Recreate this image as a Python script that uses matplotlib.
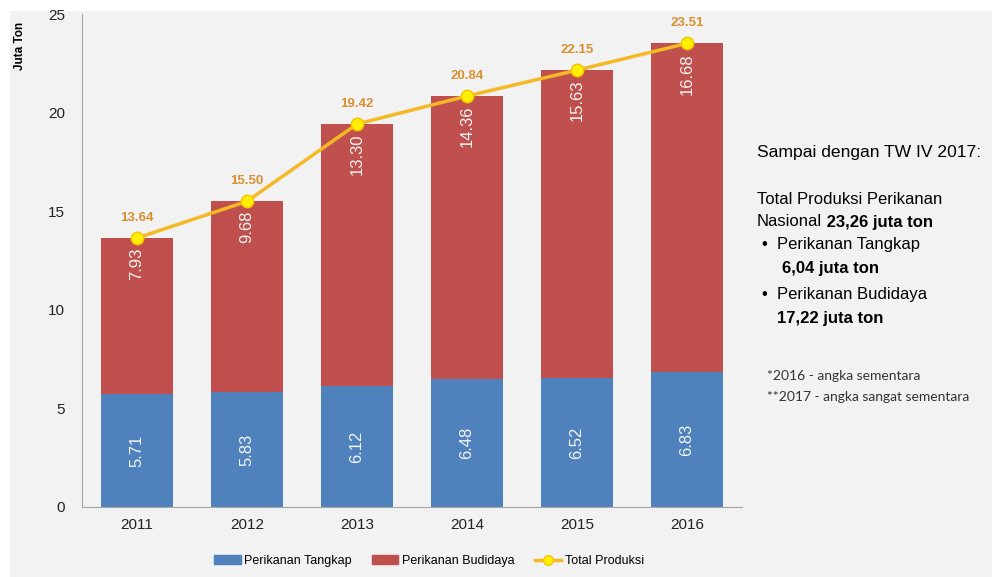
import matplotlib
matplotlib.use('Agg')
from matplotlib import pyplot as plt
from matplotlib.patches import Rectangle, Patch
from matplotlib.lines import Line2D
import numpy as np

plt.rcParams['font.family'] = ['Liberation Sans', 'DejaVu Sans']

years = ['2011', '2012', '2013', '2014', '2015', '2016']
tangkap = [5.71, 5.83, 6.12, 6.48, 6.52, 6.83]
budidaya = [7.93, 9.68, 13.30, 14.36, 15.63, 16.68]
total = [13.64, 15.50, 19.42, 20.84, 22.15, 23.51]

blue = '#4f81bd'
red = '#c0504d'
line_col = '#f5b925'
lab_col = '#d8902f'
bg = '#f2f2f2'

fig = plt.figure(figsize=(9.92, 5.77), dpi=100, facecolor='white')
# gray panel with a thin white margin at the top and left
fig.patches.append(Rectangle((10 / 992, 0), 1, 1 - 11 / 577, transform=fig.transFigure,
                             facecolor=bg, edgecolor='none', zorder=-10))

ax = fig.add_axes([82 / 992, 70 / 577, 660 / 992, 493 / 577])
ax.set_facecolor(bg)
x = np.arange(len(years))
w = 0.66

ax.bar(x, tangkap, w, color=blue, zorder=2)
ax.bar(x, budidaya, w, bottom=tangkap, color=red, zorder=2)
ax.plot(x, total, color=line_col, lw=2.5, marker='o', ms=9,
        mfc='#ffef00', mec='#f5c400', mew=1, zorder=4)

for i in range(len(years)):
    ax.text(x[i], tangkap[i] / 2, f'{tangkap[i]:.2f}', rotation=90, color='#f4f4f4',
            ha='center', va='center', fontsize=12, zorder=5)
    ax.annotate(f'{budidaya[i]:.2f}', (x[i], total[i]), xytext=(0, -7),
                textcoords='offset points', rotation=90, color='#f4f4f4',
                ha='center', va='top', fontsize=12, zorder=5)
    ax.annotate(f'{total[i]:.2f}', (x[i], total[i]), xytext=(0, 10),
                textcoords='offset points', color=lab_col, fontweight='bold',
                ha='center', va='bottom', fontsize=9.5, zorder=5)

ax.set_xlim(-0.5, len(years) - 0.5)
ax.set_ylim(0, 25)
ax.set_yticks([0, 5, 10, 15, 20, 25])
ax.set_xticks(x)
ax.set_xticklabels(years)
ax.tick_params(length=0, labelsize=11, colors='#222222')
ax.tick_params(axis='y', pad=12)
ax.tick_params(axis='x', pad=8)
for s in ['top', 'right']:
    ax.spines[s].set_visible(False)
for s in ['left', 'bottom']:
    ax.spines[s].set_color('#a6a6a6')
ax.set_ylabel('Juta Ton', fontsize=8.5, fontweight='bold')
ax.yaxis.set_label_coords(-0.085, 0.935)

handles = [Patch(color=blue, label='Perikanan Tangkap'),
           Patch(color=red, label='Perikanan Budidaya'),
           Line2D([0], [0], color=line_col, lw=2.5, marker='o', ms=7,
                  mfc='#ffef00', mec='#f5c400', label='Total Produksi')]
fig.legend(handles=handles, loc='center', bbox_to_anchor=(429 / 992, 1 - 561 / 577),
           ncol=3, frameon=False, fontsize=9, handlelength=2.1, handleheight=0.7,
           columnspacing=1.6, handletextpad=0.3)

# side notes
fs = 12
def fy(py):
    return 1 - py / 577

fig.text(757 / 992, fy(152), 'Sampai dengan TW IV 2017:', fontsize=12.6, va='center')
fig.text(757 / 992, fy(200), 'Total Produksi Perikanan', fontsize=fs, va='center')
t = fig.text(757 / 992, fy(222), 'Nasional', fontsize=fs, va='center')
ax.annotate(' 23,26 juta ton', xy=(1, 0), xycoords=t, va='bottom',
            fontsize=fs, fontweight='bold', annotation_clip=False)
fig.text(762 / 992, fy(245), '\u2022  Perikanan Tangkap', fontsize=fs, va='center')
fig.text(782 / 992, fy(268), '6,04 juta ton', fontsize=fs, va='center', fontweight='bold')
fig.text(762 / 992, fy(295), '\u2022  Perikanan Budidaya', fontsize=fs, va='center')
fig.text(777 / 992, fy(318), '17,22 juta ton', fontsize=fs, va='center', fontweight='bold')
fig.text(767 / 992, fy(376), '*2016 - angka sementara', fontsize=10, va='center',
         family=['Lato', 'DejaVu Sans'], color='#333333')
fig.text(767 / 992, fy(397), '**2017 - angka sangat sementara', fontsize=10, va='center',
         family=['Lato', 'DejaVu Sans'], color='#333333')

fig.savefig('out.png', dpi=100, facecolor='white')
